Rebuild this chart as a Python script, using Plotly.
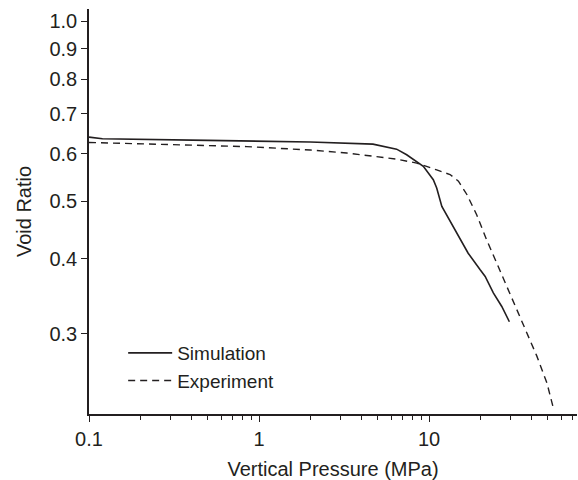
import plotly.graph_objects as go

sim_x = [0.1, 0.12, 0.5, 1.0, 2.0, 4.68, 5.15, 6.45, 7.39, 8.47, 9.26, 10.6, 11.1, 11.9, 13.5, 14.9, 17.0, 19.95, 21.4, 23.9, 26.8, 29.7]
sim_y = [0.640, 0.636, 0.632, 0.630, 0.628, 0.623, 0.619, 0.611, 0.598, 0.583, 0.572, 0.543, 0.526, 0.490, 0.460, 0.436, 0.409, 0.384, 0.374, 0.351, 0.333, 0.314]

exp_x = [0.1, 0.3, 0.847, 2.0, 3.28, 6.45, 8.47, 11.1, 13.3, 14.9, 16.7, 19.1, 21.8, 25.0, 28.6, 32.8, 37.6, 43.1, 49.4, 54.1]
exp_y = [0.627, 0.622, 0.617, 0.609, 0.602, 0.588, 0.579, 0.564, 0.554, 0.540, 0.513, 0.474, 0.431, 0.394, 0.360, 0.329, 0.301, 0.275, 0.248, 0.224]

y_ticks = [0.3, 0.4, 0.5, 0.6, 0.7, 0.8, 0.9, 1.0]
y_labels = ["0.3", "0.4", "0.5", "0.6", "0.7", "0.8", "0.9", "1.0"]
x_ticks = [0.1, 1, 10]
x_labels = ["0.1", "1", "10"]
x_minor = [m * d for d in (0.1, 1, 10) for m in range(2, 10)]

ink = "#231f20"
fam = "Arial"
tick_font = dict(family=fam, size=20, color=ink)
title_font = dict(family=fam, size=20, color=ink)
legend_font = dict(family=fam, size=19, color=ink)

fig = go.Figure()
fig.add_trace(go.Scatter(x=sim_x, y=sim_y, mode="lines", name="Simulation",
                         line=dict(color=ink, width=1.6)))
fig.add_trace(go.Scatter(x=exp_x, y=exp_y, mode="lines", name="Experiment",
                         line=dict(color=ink, width=1.4, dash="7px,5px")))

fig.update_layout(
    width=578, height=480,
    margin=dict(l=89, r=1, t=9, b=66),
    paper_bgcolor="white", plot_bgcolor="white",
    font=dict(family=fam, size=17, color=ink),
    showlegend=True,
    legend=dict(x=0.07, y=0.1975, xanchor="left", yanchor="top", itemwidth=44,
                bgcolor="rgba(0,0,0,0)", font=legend_font, tracegroupgap=0),
    xaxis=dict(type="log", range=[-1, 1.8706], tickvals=x_ticks, ticktext=x_labels,
               tickfont=tick_font,
               ticks="outside", ticklen=6, tickwidth=1.2, tickcolor=ink,
               showline=True, linecolor=ink, linewidth=1.5, showgrid=False, zeroline=False,
               minor=dict(tickvals=x_minor, ticks="outside", ticklen=4, tickwidth=1.1,
                          tickcolor=ink, showgrid=False),
               title=dict(text="Vertical Pressure (MPa)", standoff=14, font=title_font)),
    yaxis=dict(type="log", range=[-0.6576, 0.0208], tickvals=y_ticks, ticktext=y_labels,
               tickfont=tick_font,
               ticks="outside", ticklen=6, tickwidth=1.2, tickcolor=ink,
               showline=True, linecolor=ink, linewidth=1.5, showgrid=False, zeroline=False,
               title=dict(text="Void Ratio", standoff=12, font=title_font)),
)

fig.write_html("out.html")
